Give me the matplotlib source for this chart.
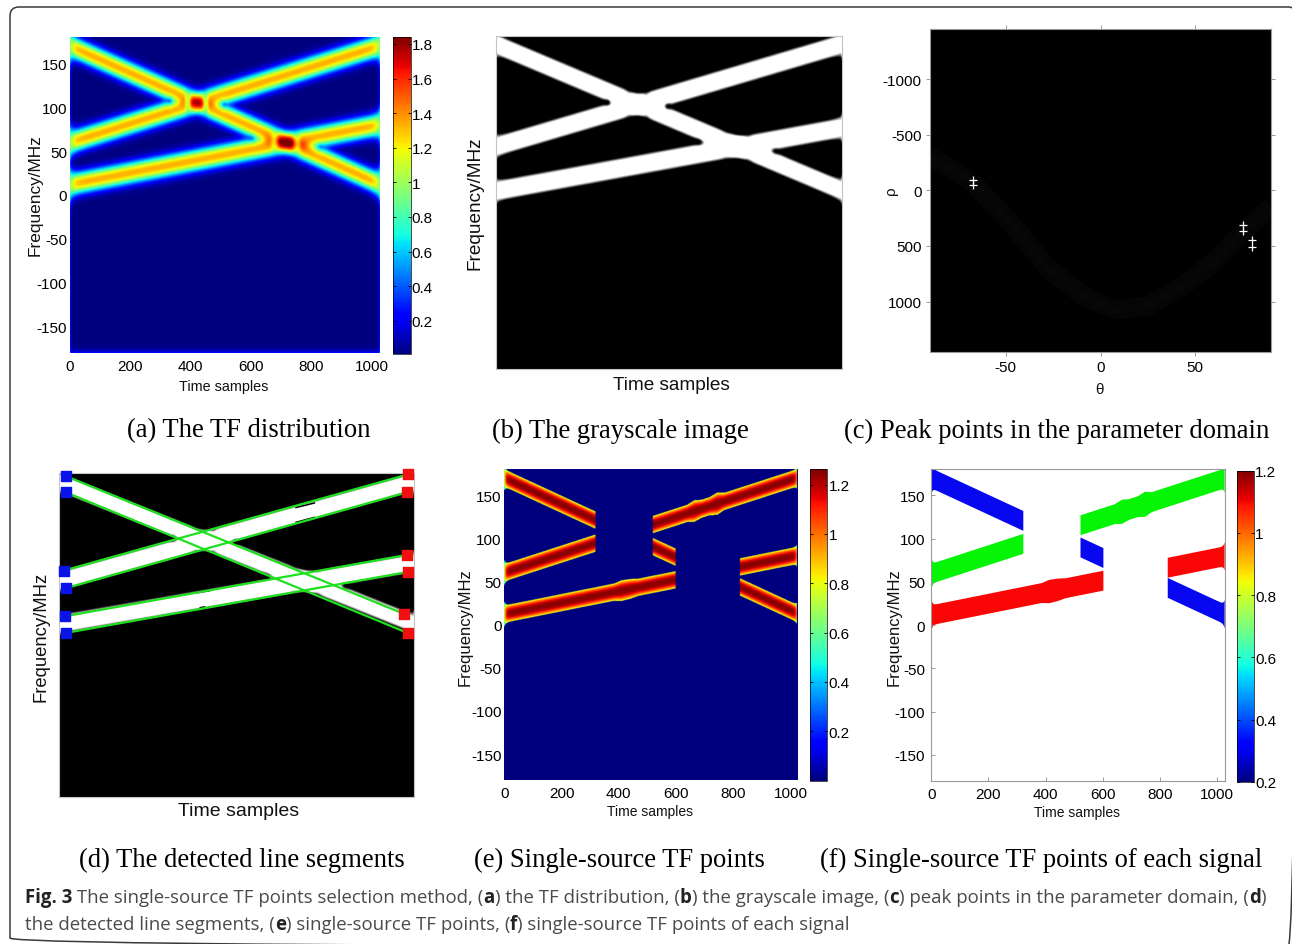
import numpy as np
import matplotlib
matplotlib.use("Agg")
import matplotlib.pyplot as plt
from matplotlib.patches import FancyBboxPatch

W, H = 1292, 945

# ridge lines, time samples vs MHz
ridge_time = [0, 1024]
ridge_a = [170, 13]
ridge_b = [60, 170]
ridge_c = [12, 80]

# where ridge a crosses b and c
cross_time = [420, 715]
cross_boost = [-0.22, 0.1]
cross_fringe = [60, 76]

# single source time ranges kept on each ridge
segs_a = [(0, 320), (520, 600), (825, 1024)]
segs_b = [(0, 320), (520, 1024)]
segs_c = [(0, 600), (825, 1024)]

# small bulges of the bands
bulge_b_time = [640, 665, 690, 720, 745, 770]
bulge_b_size = [0, 2.5, 0.5, 0.5, 3, 0]
bulge_c_time = [385, 410, 440, 470]
bulge_c_size = [0, 2, 1.5, 0]

freq_ticks = [-150, -100, -50, 0, 50, 100, 150]
time_ticks = [0, 200, 400, 600, 800, 1000]
cbar_a_ticks = [0.2, 0.4, 0.6, 0.8, 1, 1.2, 1.4, 1.6, 1.8]
cbar_e_ticks = [0.2, 0.4, 0.6, 0.8, 1, 1.2]
cbar_f_ticks = [0.2, 0.4, 0.6, 0.8, 1, 1.2]

# hough peaks
peak_theta = [-67.5, -67.5, 75, 75, 80, 80]
peak_rho = [-92, -45, 314, 362, 446, 512]
haze_theta = [-90, -78, -67, -50, -27, -8, 8, 25, 43, 60, 75, 90]
haze_rho = [-300, -190, -60, 240, 714, 960, 1075, 1040, 864, 640, 380, 150]
theta_ticks = [-50, 0, 50]
rho_ticks = [-1000, -500, 0, 500, 1000]

# detected line segments in panel d, start and end
seg_start_t = [18, 18, 12.5, 18, 16.3, 18]
seg_start_f = [177, 159, 71.9, 52.2, 21.1, 2.6]
seg_end_t = [998, 1008, 1010, 1005, 1005, 1008]
seg_end_f = [23.7, 2.6, 178.9, 158.9, 89.3, 70.4]
red_t = [1010, 1005, 1005, 1008, 998, 1008]
red_f = [178.9, 158.9, 89.3, 70.4, 23.7, 2.6]

# short black marks on the band edges in panel d
nick_t0 = [685, 685, 401, 408]
nick_f0 = [142, 125.6, 47.4, 30.7]
nick_t1 = [738, 738, 435, 420]
nick_f1 = [147, 131, 49.6, 31.5]

caption_1 = [("Fig. 3", True), (" The single-source TF points selection method, (", False), ("a", True),
             (") the TF distribution, (", False), ("b", True), (") the grayscale image, (", False), ("c", True),
             (") peak points in the parameter domain, (", False), ("d", True), (")", False)]
caption_2 = [("the detected line segments, (", False), ("e", True), (") single-source TF points, (", False),
             ("f", True), (") single-source TF points of each signal", False)]

plt.rcParams["font.family"] = "Liberation Sans"
plt.rcParams["axes.unicode_minus"] = False
GREY = "#9a9a9a"
TICK = 11
fig = plt.figure(figsize=(W / 100, H / 100), dpi=100, facecolor="white")


def add_ax(x0, y0, x1, y1):
    return fig.add_axes([x0 / W, 1 - y1 / H, (x1 - x0) / W, (y1 - y0) / H])


def edge_term(t, scale):
    return np.exp(-t / scale) + np.exp(-(1027 - t) / scale)


def ridge_dist(t, f, ridge):
    return np.abs(f - np.interp(t, ridge_time, ridge))


def tf_field():
    t, f = np.meshgrid(np.linspace(0, 1027, 800), np.linspace(-180, 180, 600))
    e = edge_term(t, 10)
    sigma = 9 * (1 + 0.5 * e)
    amp = 1.32 * (1 - 0.4 * e)
    a = amp * np.exp(-0.5 * (ridge_dist(t, f, ridge_a) / sigma) ** 2.3)
    b = amp * np.exp(-0.5 * (ridge_dist(t, f, ridge_b) / sigma) ** 2.3)
    c = amp * np.exp(-0.5 * (ridge_dist(t, f, ridge_c) / sigma) ** 2.3)
    # fringes where the ridges cross
    g1 = cross_boost[0] - np.sin(np.pi * (t - cross_time[0]) / cross_fringe[0]) ** 6
    g2 = cross_boost[1] - np.sin(np.pi * (t - cross_time[1]) / cross_fringe[1]) ** 6
    z = np.sqrt(a ** 2 + b ** 2 + c ** 2 + a * b * g1 + a * c * g2)
    # faint glow round the image border
    glow = 0.22 * (np.exp(-t / 3) + np.exp(-(1027 - t) / 3) + np.exp(-(f + 180) / 3))
    return z + glow + 0.01


def single_source_field():
    t, f = np.meshgrid(np.linspace(0, 1027, 800), np.linspace(-180, 180, 700))
    z = np.zeros_like(t)
    e = edge_term(t, 5)
    for ridge, segs, bt, bs in [(ridge_a, segs_a, None, None),
                                (ridge_b, segs_b, bulge_b_time, bulge_b_size),
                                (ridge_c, segs_c, bulge_c_time, bulge_c_size)]:
        d = ridge_dist(t, f, ridge)
        hw = 10 * (1 + 0.5 * e)
        if bt is not None:
            hw = hw + np.interp(t, bt, bs)
        keep = np.zeros_like(t, dtype=bool)
        for s0, s1 in segs:
            keep |= (t >= s0) & (t <= s1)
        # colour runs from dark red on the ridge to yellow at the band edge
        val = 1.25 * (1 - 0.5 * e) * np.exp(-0.5 * (d / hw) ** 2.6)
        z = np.where(keep & (d < hw), np.maximum(z, val), z)
    return z


def style_tf_axis(ax, xpad=4.5, ypad=2):
    ax.set_xlim(0, 1027)
    ax.set_ylim(-180, 180)
    ax.set_xticks(time_ticks)
    ax.set_yticks(freq_ticks)
    ax.tick_params(labelsize=TICK, length=0, pad=ypad, axis="y")
    ax.tick_params(labelsize=TICK, length=0, pad=xpad, axis="x")
    for s in ax.spines.values():
        s.set_visible(False)


def add_cbar(im, rect, ticks, side=0.8):
    cax = add_ax(*rect)
    cb = fig.colorbar(im, cax=cax)
    cb.set_ticks(ticks)
    cb.set_ticklabels([str(v) for v in ticks])
    cax.tick_params(labelsize=TICK, length=2.5, width=0.6, direction="in", left=True, right=True, pad=side)
    cb.outline.set_linewidth(0.5)
    return cb


def gray_panel(ax, z, lo=0.55):
    gray = np.clip((z - lo) / 0.3, 0, 1)
    ax.imshow(gray, cmap="gray", vmin=0, vmax=1, extent=[0, 1027, -180, 180], origin="lower",
              aspect="auto", interpolation="bilinear")
    ax.set_xlim(0, 1027)
    ax.set_ylim(-180, 180)
    ax.set_xticks([])
    ax.set_yticks([])
    for s in ax.spines.values():
        s.set_color("#c4c4c4")
        s.set_linewidth(0.8)


def place_label(text, x, y, size, rotation=0):
    bg.text(x, y, text, fontsize=size, rotation=rotation, ha="center", va="center", color="#111111")


def put_runs(runs, x, y, size):
    rend = fig.canvas.get_renderer()
    for txt, bold in runs:
        t = bg.text(x, y, txt + "|", fontsize=size, family="Open Sans", weight="bold" if bold else "normal",
                    va="center", color="#222222" if bold else "#4a4a4a")
        full = t.get_window_extent(rend).width
        t.set_text("|")
        bar = t.get_window_extent(rend).width
        t.set_text(txt)
        x += full - bar


# background layer in pixel coordinates, for frame and text
bg = fig.add_axes([0, 0, 1, 1])
bg.set_xlim(0, W)
bg.set_ylim(H, 0)
bg.axis("off")
bg.add_patch(FancyBboxPatch((10, 8), 1287, 940, boxstyle="round,pad=0,rounding_size=9",
                            fc="none", ec="#3a3a3a", lw=1.1))

z_tf = tf_field()
z_single = single_source_field()

# (a)
ax_a = add_ax(70, 38, 380, 354)
im_a = ax_a.imshow(z_tf, cmap="jet", vmin=0.008, vmax=1.842, extent=[0, 1027, -180, 180], origin="lower",
                   aspect="auto", interpolation="bilinear")
style_tf_axis(ax_a)
add_cbar(im_a, (392.7, 37.7, 410.7, 355), cbar_a_ticks)
place_label("Time samples", 223.7, 386.7, 10.4)
place_label("Frequency/MHz", 35, 195, 12.4, rotation=90)

# (b)
ax_b = add_ax(496, 36.7, 841.7, 370)
gray_panel(ax_b, z_tf)
place_label("Time samples", 671.7, 385, 13.7)
place_label("Frequency/MHz", 475, 203, 13.7, rotation=90)

# (c)
ax_c = add_ax(930, 30, 1271, 352.7)
ax_c.set_facecolor("black")
ax_c.plot(haze_theta, haze_rho, color="#050505", lw=14, solid_capstyle="butt")
ax_c.plot(haze_theta, haze_rho, color="#070707", lw=5, solid_capstyle="butt")
ax_c.scatter(peak_theta, peak_rho, marker="+", s=30, color="white", linewidths=0.9, zorder=3)
ax_c.set_xlim(-90, 90)
ax_c.set_ylim(1450, -1450)
ax_c.set_xticks(theta_ticks)
ax_c.set_yticks(rho_ticks)
ax_c.tick_params(labelsize=TICK, length=3, width=0.7, color=GREY, top=True, right=True, pad=3)
for s in ax_c.spines.values():
    s.set_color(GREY)
place_label("\u03b8", 1099, 390, 11)
place_label("\u03c1", 890.7, 191, 11, rotation=90)

# (d)
ax_d = add_ax(59.3, 474.3, 414.3, 798.3)
gray_panel(ax_d, z_tf, lo=0.6)
for i in range(len(nick_t0)):
    ax_d.plot([nick_t0[i], nick_t1[i]], [nick_f0[i], nick_f1[i]], color="black", lw=1.1)
for i in range(len(seg_start_t)):
    ax_d.plot([seg_start_t[i], seg_end_t[i]], [seg_start_f[i], seg_end_f[i]], color="#1fe01f", lw=1.6)
ax_d.scatter(seg_start_t, seg_start_f, marker="s", s=42, color="#0a14e6", zorder=4, clip_on=False)
ax_d.scatter(red_t, red_f, marker="s", s=42, color="#f01010", zorder=4, clip_on=False)
place_label("Time samples", 238.3, 811.7, 14)
place_label("Frequency/MHz", 40.7, 636.7, 13.3, rotation=90)

# (e)
ax_e = add_ax(504.3, 470.3, 798.3, 781)
im_e = ax_e.imshow(z_single, cmap="jet", vmin=0, vmax=1.262, extent=[0, 1027, -180, 180], origin="lower",
                   aspect="auto", interpolation="bilinear")
style_tf_axis(ax_e)
add_cbar(im_e, (810.3, 470.3, 827.3, 781.7), cbar_e_ticks)
place_label("Time samples", 650, 812, 10)
place_label("Frequency/MHz", 464.7, 626.7, 12, rotation=90)

# (f)
ax_f = add_ax(931.3, 470.3, 1225, 781.7)
for ridge, segs, color, bt, bs in [(ridge_a, segs_a, "#0808f0", None, None),
                                   (ridge_b, segs_b, "#06f406", bulge_b_time, bulge_b_size),
                                   (ridge_c, segs_c, "#fa0606", bulge_c_time, bulge_c_size)]:
    for s0, s1 in segs:
        tt = np.arange(s0, s1 + 1)
        hw = 11.5 + 5 * (np.exp(-tt / 4) + np.exp(-(1024 - tt) / 4))
        if bt is not None:
            hw = hw + np.interp(tt, bt, bs)
        mid = np.interp(tt, ridge_time, ridge)
        ax_f.fill_between(tt, mid - hw, mid + hw, color=color, lw=0)
ax_f.set_xlim(0, 1027)
ax_f.set_ylim(-180, 180)
ax_f.set_xticks(time_ticks)
ax_f.set_yticks(freq_ticks)
ax_f.tick_params(labelsize=TICK, length=3, width=0.7, color=GREY, direction="in", pad=4.5)
for s in ax_f.spines.values():
    s.set_color(GREY)
sm = plt.cm.ScalarMappable(norm=plt.Normalize(0.2, 1.2), cmap="jet")
add_cbar(sm, (1236.7, 471.7, 1254, 782.7), cbar_f_ticks)
place_label("Time samples", 1077.3, 813, 10)
place_label("Frequency/MHz", 894, 626.7, 12, rotation=90)

# sub captions
serif = "Liberation Serif"
for txt, x, y in [("(a) The TF distribution", 249, 431), ("(b) The grayscale image", 620.5, 431),
                  ("(c) Peak points in the parameter domain", 1057, 431),
                  ("(d) The detected line segments", 242, 860), ("(e) Single-source TF points", 619, 860),
                  ("(f) Single-source TF points of each signal", 1041, 860)]:
    bg.text(x, y, txt, fontsize=19.15, family=serif, ha="center", va="center", color="black")

put_runs(caption_1, 25, 898, 13.45)
put_runs(caption_2, 25, 925, 13.45)

fig.savefig("out.png", dpi=100)
